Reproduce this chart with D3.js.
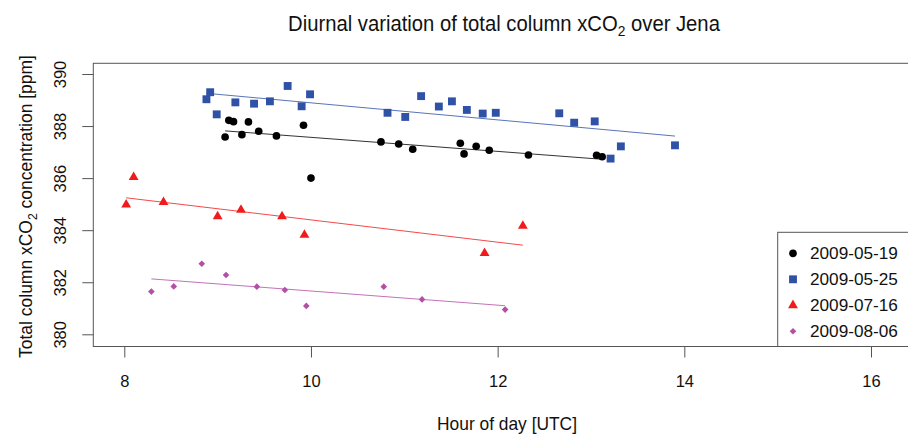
<!DOCTYPE html>
<html>
<head>
<meta charset="utf-8">
<script src="https://cdn.jsdelivr.net/npm/d3@7"></script>
<style>
  body { margin: 0; background: #fff; }
  svg { display: block; font-family: "Liberation Sans", Arial, sans-serif; }
</style>
</head>
<body>
<svg id="chart" width="908" height="434"></svg>
<script>
// hour of day (UTC) and xCO2 (ppm) for each day
const hours0519 = [9.08, 9.12, 9.17, 9.26, 9.33, 9.44, 9.63, 9.92, 10.00, 10.75, 10.94, 11.09, 11.60, 11.64, 11.77, 11.91, 12.33, 13.06, 13.12];
const xco20519 = [387.58, 388.22, 388.17, 387.67, 388.16, 387.80, 387.62, 388.03, 386.00, 387.39, 387.31, 387.11, 387.34, 386.93, 387.22, 387.07, 386.89, 386.88, 386.82];

const hours0525 = [8.88, 8.92, 8.99, 9.19, 9.39, 9.56, 9.75, 9.90, 9.99, 10.82, 11.01, 11.18, 11.37, 11.51, 11.67, 11.84, 11.98, 12.66, 12.82, 13.04, 13.21, 13.32, 13.90];
const xco20525 = [389.03, 389.30, 388.45, 388.91, 388.86, 388.95, 389.54, 388.76, 389.22, 388.51, 388.35, 389.15, 388.75, 388.95, 388.62, 388.48, 388.51, 388.49, 388.13, 388.18, 386.75, 387.22, 387.26];

const hours0716 = [8.02, 8.10, 8.42, 9.00, 9.25, 9.69, 9.93, 11.86, 12.27];
const xco20716 = [384.98, 386.04, 385.08, 384.53, 384.78, 384.53, 383.82, 383.12, 384.16];

const hours0806 = [8.29, 8.53, 8.83, 9.09, 9.42, 9.72, 9.95, 10.78, 11.19, 12.08];
const xco20806 = [381.64, 381.84, 382.71, 382.28, 381.83, 381.70, 381.09, 381.83, 381.34, 380.95];

const seriesNames = ['2009-05-19', '2009-05-25', '2009-07-16', '2009-08-06'];
const seriesColors = ['#000000', '#2f51a6', '#f01c1c', '#b44fa6'];
const xTicks = [8, 10, 12, 14, 16];
const yTicks = [380, 382, 384, 386, 388, 390];

const hours = [hours0519, hours0525, hours0716, hours0806];
const values = [xco20519, xco20525, xco20716, xco20806];

// marker shapes like R's pch 16, 15, 17, 18
const diamond = {
  draw(ctx, size) {
    const r = Math.sqrt(size / 2);
    ctx.moveTo(0, -r); ctx.lineTo(r, 0); ctx.lineTo(0, r); ctx.lineTo(-r, 0); ctx.closePath();
  }
};
const shapes = [
  d3.symbol(d3.symbolCircle, 46),
  d3.symbol(d3.symbolSquare, 62),
  d3.symbol(d3.symbolTriangle, 42),
  d3.symbol(diamond, 22)
];

const series = seriesNames.map((name, i) => ({
  name,
  color: seriesColors[i],
  shape: shapes[i],
  points: d3.zip(hours[i], values[i])
}));

const svg = d3.select('#chart');

const box = { left: 93.3, top: 63.3, right: 921, bottom: 346.5 };

const x = d3.scaleLinear().domain([8, 16]).range([124.3, 871]);
const y = d3.scaleLinear().domain([380, 390]).range([334.3, 74]);

// squeeze text horizontally to a target width (R's font is narrow)
function fitWidth(sel, width, cx, cy) {
  const w = sel.node().getBBox().width;
  const k = width / w;
  sel.attr('transform', `translate(${cx},${cy}) scale(${k},1) translate(${-cx},${-cy})`);
}

// plot frame
svg.append('rect')
  .attr('x', box.left).attr('y', box.top)
  .attr('width', box.right - box.left).attr('height', box.bottom - box.top)
  .attr('fill', 'none').attr('stroke', '#555').attr('stroke-width', 1);

// x axis
const xAxis = svg.append('g')
  .attr('transform', `translate(0,${box.bottom})`)
  .call(d3.axisBottom(x).tickValues(xTicks).tickSize(11).tickPadding(18).tickFormat(d3.format('d')));
xAxis.select('.domain').remove();
xAxis.selectAll('line').attr('stroke', '#555');
xAxis.selectAll('text').attr('font-size', 16.5).attr('fill', '#111').attr('font-family', null);

// y axis, labels turned like R's las = 0
const yAxis = svg.append('g')
  .attr('transform', `translate(${box.left},0)`)
  .call(d3.axisLeft(y).tickValues(yTicks).tickSize(11).tickFormat(d3.format('d')));
yAxis.select('.domain').remove();
yAxis.selectAll('line').attr('stroke', '#555');
yAxis.selectAll('text')
  .attr('x', null).attr('dy', null).attr('y', 0)
  .attr('text-anchor', 'middle')
  .attr('font-size', 16.5).attr('fill', '#111').attr('font-family', null)
  .attr('transform', `translate(${66 - box.left},0) rotate(-90)`);

// regression lines over each day's range
series.forEach(s => {
  const mx = d3.mean(s.points, p => p[0]);
  const my = d3.mean(s.points, p => p[1]);
  const sxy = d3.sum(s.points, p => (p[0] - mx) * (p[1] - my));
  const sxx = d3.sum(s.points, p => (p[0] - mx) ** 2);
  const b = sxy / sxx;
  const ext = d3.extent(s.points, p => p[0]);
  svg.append('path')
    .datum(ext.map(h => [h, my + b * (h - mx)]))
    .attr('d', d3.line().x(d => x(d[0])).y(d => y(d[1])))
    .attr('fill', 'none')
    .attr('stroke', s.color)
    .attr('stroke-opacity', 0.8)
    .attr('stroke-width', 1);
});

// points
series.forEach(s => {
  svg.append('g').selectAll('path')
    .data(s.points)
    .join('path')
    .attr('transform', d => `translate(${x(d[0])},${y(d[1])})`)
    .attr('d', s.shape)
    .attr('fill', s.color);
});

// title
const title = svg.append('text')
  .attr('x', 504).attr('y', 31)
  .attr('text-anchor', 'middle')
  .attr('font-size', 22).attr('fill', '#111');
title.append('tspan').text('Diurnal variation of total column xCO');
title.append('tspan').attr('font-size', 15).attr('dy', 5).text('2');
title.append('tspan').attr('dy', -5).text(' over Jena');
fitWidth(title, 433, 504, 31);

// x label
const xLabel = svg.append('text')
  .attr('x', 507).attr('y', 430)
  .attr('text-anchor', 'middle')
  .attr('font-size', 18.5).attr('fill', '#111')
  .text('Hour of day [UTC]');
fitWidth(xLabel, 140, 507, 430);

// y label
const yLabelG = svg.append('g').attr('transform', 'translate(32,206.5) rotate(-90)');
const yLabel = yLabelG.append('text')
  .attr('x', 0).attr('y', 0)
  .attr('text-anchor', 'middle')
  .attr('font-size', 18.5).attr('fill', '#111');
yLabel.append('tspan').text('Total column xCO');
yLabel.append('tspan').attr('font-size', 13).attr('dy', 5).text('2');
yLabel.append('tspan').attr('dy', -5).text(' concentration [ppm]');
fitWidth(yLabel, 303, 0, 0);

// legend
const legend = svg.append('g');
legend.append('rect')
  .attr('x', 777.7).attr('y', 232.3)
  .attr('width', 200).attr('height', box.bottom - 232.3)
  .attr('fill', '#fff').attr('stroke', '#555').attr('stroke-width', 1);
const rows = legend.selectAll('g.row')
  .data(series)
  .join('g')
  .attr('class', 'row')
  .attr('transform', (d, i) => `translate(0,${253.3 + i * 26})`);
rows.append('path')
  .attr('transform', 'translate(793,0)')
  .attr('d', d => d.shape())
  .attr('fill', d => d.color);
rows.append('text')
  .attr('x', 810).attr('y', 5.6)
  .attr('font-size', 16).attr('fill', '#111')
  .text(d => d.name)
  .each(function () { fitWidth(d3.select(this), 88, 810, 5.6); });
</script>
</body>
</html>
